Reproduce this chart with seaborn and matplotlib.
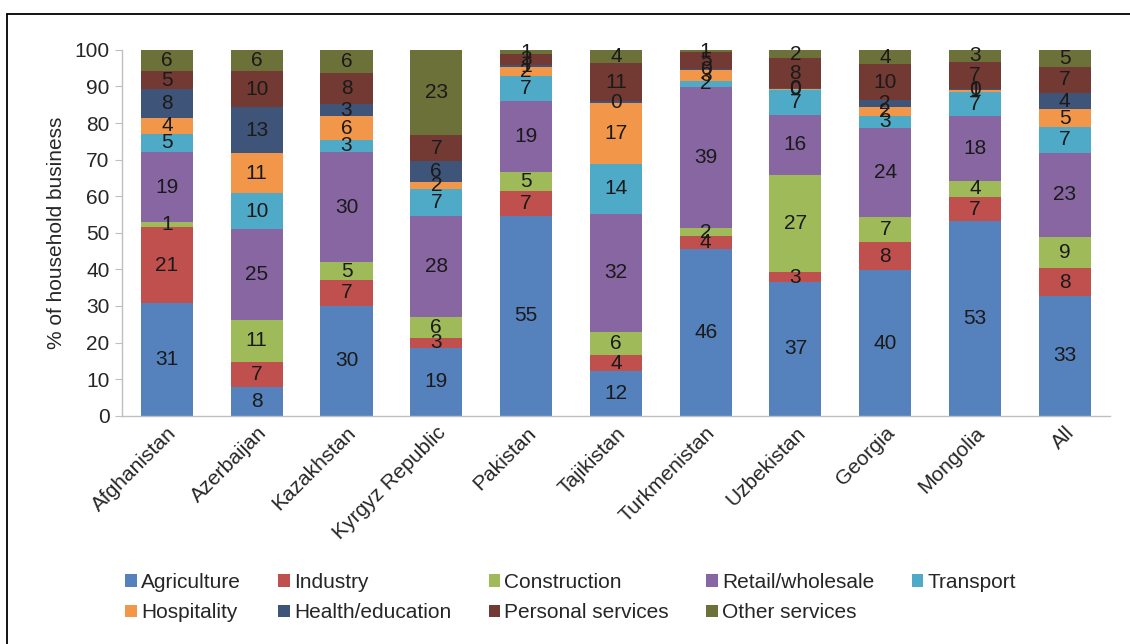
import numpy as np
import pandas as pd
import seaborn as sns
import matplotlib.pyplot as plt
from matplotlib.patches import Patch
from matplotlib.lines import Line2D

countries = ['Afghanistan', 'Azerbaijan', 'Kazakhstan', 'Kyrgyz Republic', 'Pakistan',
             'Tajikistan', 'Turkmenistan', 'Uzbekistan', 'Georgia', 'Mongolia', 'All']

# shares (%) of household businesses by sector
agriculture   = [30.7, 7.9, 30.1, 18.6, 54.6, 12.1, 45.6, 36.6, 39.7, 53.2, 32.7]
industry      = [20.8, 6.9, 7.0, 2.7, 6.7, 4.4, 3.6, 2.6, 7.7, 6.6, 7.6]
construction  = [1.4, 11.4, 4.8, 5.6, 5.4, 6.4, 2.0, 26.7, 7.0, 4.4, 8.6]
retail        = [19.2, 24.8, 30.2, 27.8, 19.4, 32.3, 38.6, 16.4, 24.2, 17.7, 23.0]
transport     = [5.0, 9.8, 3.4, 7.3, 6.8, 13.7, 1.8, 6.7, 3.4, 6.6, 7.0]
hospitality   = [4.4, 10.9, 6.3, 1.8, 2.4, 16.7, 2.9, 0.3, 2.4, 0.6, 4.9]
health        = [7.7, 12.6, 3.4, 5.7, 0.6, 0.3, 0.2, 0.2, 1.8, 0.3, 4.4]
personal      = [5.0, 9.9, 8.4, 7.3, 2.9, 10.6, 4.6, 8.2, 9.9, 7.3, 7.2]
other         = [5.8, 5.8, 6.4, 23.2, 1.2, 3.6, 0.7, 2.3, 3.9, 3.3, 4.6]

sectors = ['Agriculture', 'Industry', 'Construction', 'Retail/wholesale', 'Transport',
           'Hospitality', 'Health/education', 'Personal services', 'Other services']
colors = ['#5581BD', '#C0504D', '#9FBB59', '#8766A1', '#4EAAC6',
          '#F29749', '#3E5478', '#733A34', '#6B7139']

df = pd.DataFrame(dict(zip(sectors, [agriculture, industry, construction, retail, transport,
                                     hospitality, health, personal, other])), index=countries)

sns.set_style('white')
plt.rcParams['font.family'] = ['Liberation Sans', 'DejaVu Sans']
plt.rcParams['font.size'] = 15

fig = plt.figure(figsize=(11.3, 6.44), dpi=100)
ax = fig.add_axes([0.108, 0.3545, 0.874, 0.568])

bottom = np.zeros(len(countries))
for sector, col in zip(sectors, colors):
    vals = df[sector].values
    sns.barplot(x=df.index, y=vals, bottom=bottom, color=col, saturation=1,
                width=0.58, ax=ax, linewidth=0)
    ax.bar_label(ax.containers[-1], labels=[f'{v:.0f}' for v in vals],
                 label_type='center', fontsize=15, color='#1a1a1a')
    bottom += vals

ax.set_ylim(0, 100)
ax.set_xlim(-0.5, len(countries) - 0.5)
ax.set_yticks(range(0, 101, 10))
ax.set_ylabel('% of household business', fontsize=15, labelpad=6)
ax.set_xlabel('')
for s in ['top', 'right']:
    ax.spines[s].set_visible(False)
for s in ['left', 'bottom']:
    ax.spines[s].set_color('#BFBFBF')
    ax.spines[s].set_linewidth(1)
ax.tick_params(axis='y', left=True, length=5, color='#BFBFBF', labelsize=15, pad=4)
ax.tick_params(axis='x', bottom=False, labelsize=15, pad=2)
plt.setp(ax.get_xticklabels(), rotation=45, ha='right', rotation_mode='anchor')

# legend, reordered so that it reads row by row
order = [0, 5, 1, 6, 2, 7, 3, 8, 4]
handles = [Patch(facecolor=colors[i], edgecolor='none') for i in order]
fig.legend(handles, [sectors[i] for i in order], ncol=5, loc='center',
           bbox_to_anchor=(0.505, 0.072), frameon=False, fontsize=15,
           handlelength=0.55, handleheight=0.55, handletextpad=0.2,
           columnspacing=1.8, labelspacing=0.55)

# outer frame (top and left edges visible)
fig.add_artist(Line2D([7 / 1130, 1.0], [1 - 14 / 644, 1 - 14 / 644], color='black', lw=1.3))
fig.add_artist(Line2D([7 / 1130, 7 / 1130], [0.0, 1 - 14 / 644], color='black', lw=1.3))

fig.savefig('out.png', dpi=100, facecolor='white')
